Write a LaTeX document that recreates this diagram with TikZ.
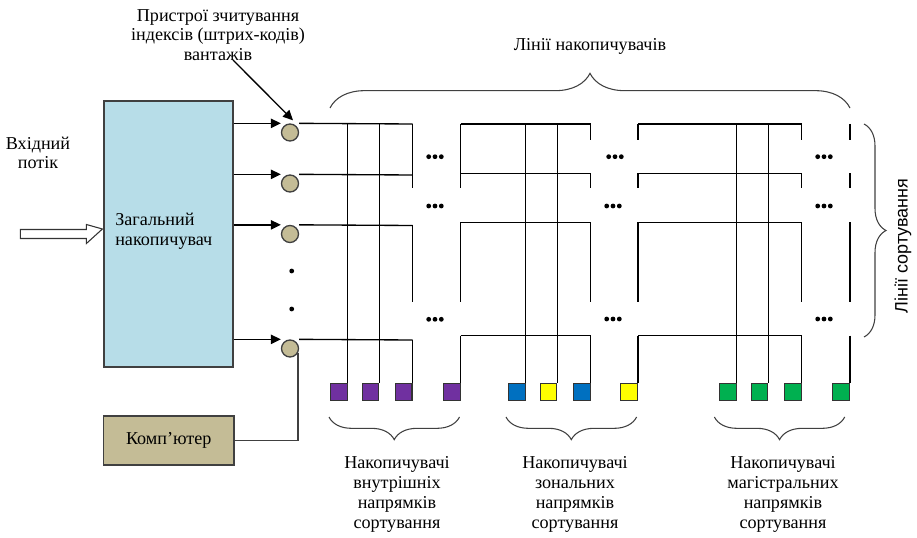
\documentclass[tikz,border=0pt]{standalone}
\usepackage{fontspec}
\setmainfont{Liberation Serif}
\newfontfamily\arialf{Liberation Sans}
\usetikzlibrary{arrows.meta,decorations.pathreplacing,calc}
\definecolor{boxblue}{HTML}{B7DDE8}
\definecolor{tan}{HTML}{C4BC96}
\definecolor{edge}{HTML}{404040}
\definecolor{sqpurple}{HTML}{7030A0}
\definecolor{sqblue}{HTML}{0070C0}
\definecolor{sqyellow}{HTML}{FFFF00}
\definecolor{sqgreen}{HTML}{00B050}
\tikzset{
  txt/.style={font=\fontsize{13.6}{14.8}\selectfont, inner sep=0pt, align=center},
  reader/.style={circle, draw=edge, fill=tan, line width=1pt, minimum size=12.75pt, inner sep=0pt},
  sq/.style={draw=black!80, line width=0.8pt, minimum size=12.5pt, inner sep=0pt, anchor=north east},
  grid/.style={line width=1pt, black},
  feed/.style={line width=1.1pt, -{Triangle[length=7.5pt,width=7pt]}},
  brc/.style={decorate, decoration={brace, amplitude=#1}, line width=0.8pt, draw=black!75},
  dot/.style={circle, fill=black, inner sep=0pt, minimum size=3.6pt}
}
\begin{document}
\begin{tikzpicture}[x=0.75pt,y=-0.75pt]
\useasboundingbox (0,0) rectangle (917,538);

% main boxes
\node[draw=edge, fill=boxblue, line width=0.9pt, minimum width=96.75pt, minimum height=199.5pt, inner sep=0pt] (acc) at (168.5,234) {};
\node[txt, anchor=west, align=left] (acclbl) at (115,231) {Загальний\\накопичувач};
\node[draw=edge, fill=tan, line width=0.9pt, minimum width=97.9pt, minimum height=36.75pt, inner sep=0pt, txt] (comp) at (168.75,440.5) {Комп’ютер};

% input arrow
\draw[line width=0.8pt, draw=black!80, fill=white]
  ($(acc.west)+(-83,-4.5)$) -- ($(acc.west)+(-17,-4.5)$) -- ($(acc.west)+(-17,-9.5)$)
  -- ($(acc.west)+(-1,-5)$) -- ($(acc.west)+(-17,9.5)$) -- ($(acc.west)+(-17,4.5)$)
  -- ($(acc.west)+(-83,4.5)$) -- cycle;
\node[txt] (inlbl) at (38,153) {Вхідний\\потік};

% readers
\node[reader] (c1) at (290,132.5) {};
\node[reader] (c2) at (290,183.5) {};
\node[reader] (c3) at (290,234) {};
\node[reader] (c4) at (290,348.5) {};
\foreach \c in {c1,c2,c3,c4}
  \draw[feed] (acc.east |- \c.north) -- (\c.north -| \c.west);
\node[dot] (vd1) at (291.7,271) {};
\node[dot] (vd2) at (291.7,309) {};

% reader label
\node[txt] (rdlbl) at (218,35) {Пристрої зчитування\\індексів (штрих-кодів)\\вантажів};
\coordinate (rdtail) at (233,60);
\draw[feed, line width=1pt] (rdtail) -- ($(c1.north)+(3,-3)$);

% computer link
\draw[line width=1pt, draw=edge] (comp.east) -| (c4.-30);

% squares
\foreach \x/\col/\n in {347.7/sqpurple/p1, 379.3/sqpurple/p2, 412.5/sqpurple/p3, 460.7/sqpurple/p4,
  525.7/sqblue/z1, 557.3/sqyellow/z2, 590.7/sqblue/z3, 638/sqyellow/z4,
  736.7/sqgreen/m1, 768.3/sqgreen/m2, 801.7/sqgreen/m3, 850/sqgreen/m4}
  \node[sq, fill=\col] (\n) at (\x,383.3) {};

% group 1 rows
\foreach \c/\y in {c1/124, c2/175, c3/225.5, c4/340}
  \draw[grid] (\c.north -| \c.east) -- (412.5,\y);
% groups 2,3 rows
\foreach \y in {124,173.5,222.5,335.5} {
  \draw[grid] (460.7,\y) -- (590.7,\y);
  \draw[grid] (638,\y) -- (801.7,\y);
}
% through verticals
\foreach \x/\n in {347.7/p1, 379.3/p2, 525.7/z1, 557.3/z2, 736.7/m1, 768.3/m2}
  \draw[grid] (\x,124) -- (\n.north east);
% edge verticals, long type
\draw[grid] (412.5,124) -- (412.5,188);
\draw[grid] (412.5,225.5) -- (412.5,302);
\draw[grid] (412.5,340) -- (p3.north east);
\draw[grid] (460.7,124) -- (460.7,188);
\draw[grid] (460.7,222.5) -- (460.7,302);
\draw[grid] (460.7,335.5) -- (p4.north east);
% edge verticals, stub type
\foreach \x/\n in {590.7/z3, 638/z4, 801.7/m3, 850/m4} {
  \draw[grid] (\x,124) -- (\x,140);
  \draw[grid] (\x,173.5) -- (\x,188);
  \draw[grid] (\x,222.5) -- (\x,302);
  \draw[grid] (\x,335.5) -- (\n.north east);
}

% triple dots
\foreach \x/\y in {435/156.7, 435/206, 435/319.3, 615/156.7, 613/206, 613/319, 824/156.7, 824/206, 824/319}
  \foreach \d in {-6.3,0,6.3}
    \fill (\x+\d,\y) circle (2.4);

% braces
\draw[brc=26pt] (330,108) -- (850,108);
\node[txt] (toplbl) at (590,46) {Лінії накопичувачів};
\draw[brc=16.5pt] (864,124) -- (864,337);
\node[txt, font=\arialf\fontsize{13.5}{14.8}\selectfont, rotate=90] (sortlbl) at (903,246) {Лінії сортування};
\draw[brc=17pt] (459.5,417) -- (329,417);
\draw[brc=17pt] (636.6,417) -- (506,417);
\draw[brc=17pt] (844.7,417) -- (714.4,417);

\node[txt] (lbl1) at (397,494.5) {Накопичувачі\\внутрішніх\\напрямків\\сортування};
\node[txt] (lbl2) at (575,494.5) {Накопичувачі\\зональних\\напрямків\\сортування};
\node[txt] (lbl3) at (783,494.5) {Накопичувачі\\магістральних\\напрямків\\сортування};
\end{tikzpicture}
\end{document}
